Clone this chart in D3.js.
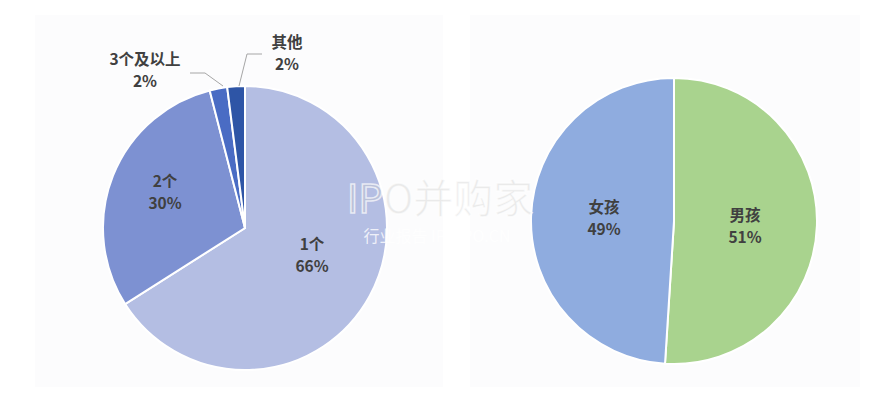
<!DOCTYPE html><html><head><meta charset="utf-8"><script src="https://cdn.jsdelivr.net/npm/d3@7"></script>
<style>body{margin:0;background:#fff}text{font-family:"Noto Sans CJK SC",sans-serif;font-weight:bold;fill:#404040;font-size:15.5px}</style></head><body>
<svg width="875" height="410"></svg>
<script>
const leftCats=["1个","2个","3个及以上","其他"];
const leftVals=[66,30,2,2];
const leftColors=["#b4bee3","#7d91d2","#4a6cc4","#2e55a6"];
const rightCats=["男孩","女孩"];
const rightVals=[51,49];
const rightColors=["#a9d38e","#8facdf"];
const svg=d3.select("svg");
svg.append("rect").attr("x",35).attr("y",15).attr("width",408).attr("height",372).attr("fill","#fcfcfd");
svg.append("rect").attr("x",470).attr("y",15).attr("width",390).attr("height",372).attr("fill","#fcfcfd");
function pie(cx,cy,r,vals,cols){
  const arcs=d3.pie().sort(null)(vals);
  const arc=d3.arc().innerRadius(0).outerRadius(r);
  svg.append("g").attr("transform",`translate(${cx},${cy})`).selectAll("path").data(arcs).join("path")
   .attr("d",arc).attr("fill",(d,i)=>cols[i]).attr("stroke","#fff").attr("stroke-width",2);
}
pie(245,228,142,leftVals,leftColors);
pie(674,221,143,rightVals,rightColors);
function lbl(x,y,a,b){
 svg.append("text").attr("text-anchor","middle").attr("x",x).attr("y",y).text(a);
 svg.append("text").attr("text-anchor","middle").attr("x",x).attr("y",y+22).text(b);}
lbl(312,250,leftCats[0],leftVals[0]+"%");
lbl(165,187,leftCats[1],leftVals[1]+"%");
lbl(145,65,leftCats[2],leftVals[2]+"%");
lbl(287,48,leftCats[3],leftVals[3]+"%");
lbl(745,221,rightCats[0],rightVals[0]+"%");
lbl(604,213,rightCats[1],rightVals[1]+"%");
const line=d3.line();
svg.append("path").attr("d",line([[190,73],[205,73],[223,86]])).attr("stroke","#a6a6a6").attr("fill","none");
svg.append("path").attr("d",line([[239,86],[247,54],[262,54]])).attr("stroke","#a6a6a6").attr("fill","none");
svg.append("text").attr("x",440).attr("y",213).attr("text-anchor","middle").style("font-size","40px").style("fill","rgba(200,200,200,0.35)").style("stroke","rgba(255,255,255,0.7)").style("stroke-width",1.5).style("font-weight","normal").text("IPO并购家");
svg.append("text").attr("x",437).attr("y",242).attr("text-anchor","middle").style("font-size","16px").style("fill","rgba(255,255,255,0.8)").style("font-weight","normal").text("行业报告 IPOIPO.CN");
</script></body></html>
